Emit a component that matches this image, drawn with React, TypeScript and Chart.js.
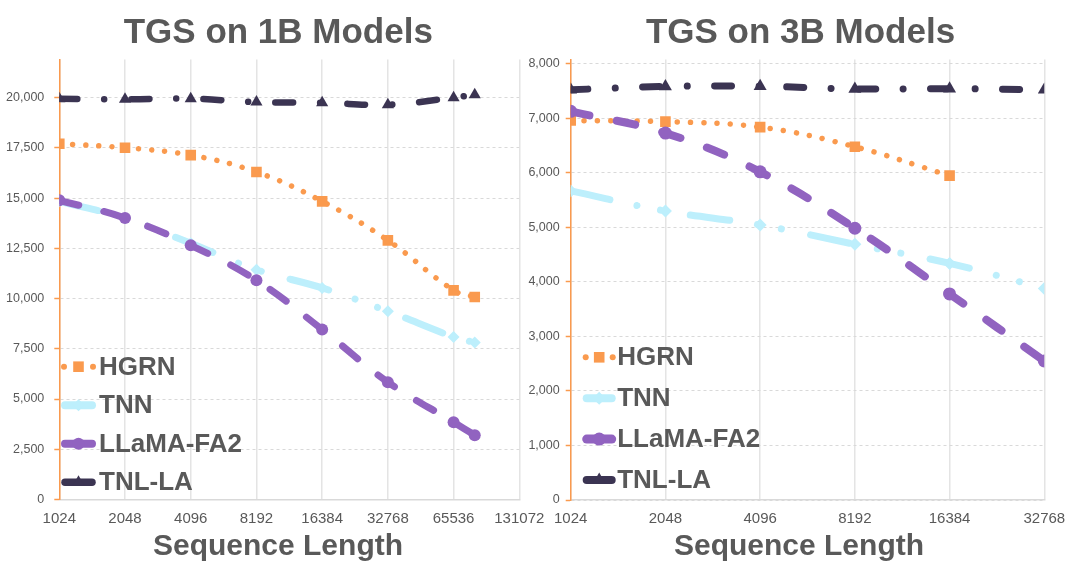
import React, { useEffect, useRef } from 'react';
import { Chart, registerables } from 'chart.js';

Chart.register(...registerables);

// ---------- data ----------
const seriesNames = ['HGRN', 'TNN', 'LLaMA-FA2', 'TNL-LA'];

const seqLen1B = [1024, 2048, 4096, 8192, 16384, 32768, 65536, 81920];
const hgrn1B = [17710, 17510, 17140, 16300, 14840, 12900, 10410, 10080];
const tnn1B = [14850, 14000, 12750, 11440, 10530, 9370, 8090, 7810];
const llama1B = [14890, 14010, 12650, 10910, 8460, 5840, 3850, 3200];
const tnl1B = [19950, 19920, 19950, 19780, 19750, 19650, 20000, 20150];
const xTicks1B = [1024, 2048, 4096, 8192, 16384, 32768, 65536, 131072];
const yTicks1B = [0, 2500, 5000, 7500, 10000, 12500, 15000, 17500, 20000];

const seqLen3B = [1024, 2048, 4096, 8192, 16384, 32768];
const hgrn3B = [6960, 6940, 6840, 6480, 5950];
const tnn3B = [5670, 5300, 5045, 4690, 4340, 3880];
const llama3B = [7130, 6730, 6020, 4985, 3780, 2550];
const tnl3B = [7525, 7585, 7590, 7540, 7545, 7525];
const xTicks3B = [1024, 2048, 4096, 8192, 16384, 32768];
const yTicks3B = [0, 1000, 2000, 3000, 4000, 5000, 6000, 7000, 8000];

const title1B = 'TGS on 1B Models';
const title3B = 'TGS on 3B Models';
const xAxisTitle = 'Sequence Length';

// ---------- styles ----------
const FONT = "'Liberation Sans', Arial, Helvetica, sans-serif";
const TEXT = '#595959';
const ORANGE = '#FA9A4E';
const LIGHTBLUE = '#BDEFFC';
const PURPLE = '#9163C0';
const NAVY = '#3B3452';

type Style = {
  color: string;
  width: number;
  dash: number[];
  point: string;
  radius: number;
  order: number;
  legend: 'dots' | 'solid';
};

const styles1B: Style[] = [
  { color: ORANGE, width: 5.5, dash: [0.01, 13.2], point: 'rect', radius: 7.5, order: 2, legend: 'dots' },
  { color: LIGHTBLUE, width: 7, dash: [40, 28, 0.01, 24, 0.01, 30], point: 'rectRot', radius: 6, order: 3, legend: 'solid' },
  { color: PURPLE, width: 7, dash: [20, 26], point: 'circle', radius: 6, order: 1, legend: 'solid' },
  { color: NAVY, width: 6.5, dash: [18, 27, 0.01, 27], point: 'triangle', radius: 7, order: 0, legend: 'solid' },
];
const styles3B: Style[] = [
  { color: ORANGE, width: 5.5, dash: [0.01, 13.3], point: 'rect', radius: 7.5, order: 2, legend: 'dots' },
  { color: LIGHTBLUE, width: 7, dash: [40, 28, 0.01, 24, 0.01, 30], point: 'rectRot', radius: 6.5, order: 3, legend: 'solid' },
  { color: PURPLE, width: 8, dash: [19, 28], point: 'circle', radius: 6.5, order: 1, legend: 'solid' },
  { color: NAVY, width: 7, dash: [17, 27.5, 0.01, 27.5], point: 'triangle', radius: 7.5, order: 0, legend: 'solid' },
];

function drawMarker(ctx: CanvasRenderingContext2D, style: string, x: number, y: number, r: number, color: string) {
  ctx.save();
  ctx.fillStyle = color;
  ctx.beginPath();
  if (style === 'rect') {
    const s = r * Math.SQRT1_2;
    ctx.rect(x - s, y - s, 2 * s, 2 * s);
  } else if (style === 'rectRot') {
    ctx.moveTo(x, y - r);
    ctx.lineTo(x + r, y);
    ctx.lineTo(x, y + r);
    ctx.lineTo(x - r, y);
    ctx.closePath();
  } else if (style === 'triangle') {
    ctx.moveTo(x, y - r);
    ctx.lineTo(x + r * Math.sin((2 * Math.PI) / 3), y - r * Math.cos((2 * Math.PI) / 3));
    ctx.lineTo(x + r * Math.sin((4 * Math.PI) / 3), y - r * Math.cos((4 * Math.PI) / 3));
    ctx.closePath();
  } else {
    ctx.arc(x, y, r, 0, Math.PI * 2);
  }
  ctx.fill();
  ctx.restore();
}

// chart title, in-plot legend and x-axis title placed where the reference has them
const annotations = {
  id: 'annotations',
  afterDraw(chart: any, _args: any, opts: any) {
    const { ctx, chartArea } = chart;
    const sx = chartArea.left + opts.offsetX;
    const w = opts.symbolWidth;
    chart.data.datasets.forEach((ds: any, i: number) => {
      const st: Style = opts.styles[i];
      const y = opts.top + i * opts.rowGap;
      ctx.save();
      if (st.legend === 'dots') {
        ctx.fillStyle = st.color;
        [sx + 3, sx + w - 3].forEach((cx) => {
          ctx.beginPath();
          ctx.arc(cx, y, 3, 0, Math.PI * 2);
          ctx.fill();
        });
      } else {
        ctx.strokeStyle = st.color;
        ctx.lineWidth = st.width + 1;
        ctx.lineCap = 'round';
        ctx.beginPath();
        ctx.moveTo(sx + 4, y);
        ctx.lineTo(sx + w - 4, y);
        ctx.stroke();
      }
      ctx.restore();
      drawMarker(ctx, st.point, sx + w / 2, y, st.radius, st.color);
      ctx.save();
      ctx.fillStyle = TEXT;
      ctx.font = `bold ${opts.fontSize}px ${FONT}`;
      ctx.textAlign = 'left';
      ctx.textBaseline = 'middle';
      ctx.fillText(ds.label, sx + w + opts.textGap, y + 1);
      ctx.restore();
    });
    ctx.save();
    ctx.fillStyle = TEXT;
    ctx.textAlign = 'center';
    ctx.textBaseline = 'alphabetic';
    // chart title
    ctx.font = `bold 35px ${FONT}`;
    ctx.fillText(opts.title, opts.titleX, opts.titleBaseline);
    // x-axis title
    ctx.font = `bold 30px ${FONT}`;
    ctx.fillText(opts.axisTitle, opts.axisTitleX, opts.axisTitleBaseline);
    ctx.restore();
  },
};

function buildDatasets(xs: number[], series: number[][], st: Style[]) {
  return series.map((vals, i) => ({
    label: seriesNames[i],
    data: vals.map((v, j) => ({ x: xs[j], y: v })),
    borderColor: st[i].color,
    backgroundColor: st[i].color,
    borderWidth: st[i].width,
    borderDash: st[i].dash,
    borderCapStyle: 'round',
    borderJoinStyle: 'round',
    pointStyle: st[i].point,
    pointRadius: st[i].radius,
    pointBorderWidth: 0,
    pointBackgroundColor: st[i].color,
    tension: 0.4,
    fill: false,
    order: st[i].order,
  }));
}

type Cfg = {
  title: string;
  xs: number[];
  series: number[][];
  st: Style[];
  xTicks: number[];
  yTicks: number[];
  yMax: number;
  yAxisWidth: number;
  xAxisHeight: number;
  padRight: number;
  yTickPad: number;
  legend: any;
};

function makeConfig(c: Cfg): any {
  return {
    type: 'line',
    data: { datasets: buildDatasets(c.xs, c.series, c.st) },
    plugins: [annotations],
    options: {
      animation: false,
      responsive: false,
      events: [],
      layout: { padding: { left: 0, right: c.padRight, top: 59.5, bottom: 0 } },
      plugins: {
        legend: { display: false },
        tooltip: { enabled: false },
        title: { display: false },
        annotations: { ...c.legend, styles: c.st, axisTitle: xAxisTitle, title: c.title },
      },
      scales: {
        x: {
          type: 'logarithmic',
          min: c.xTicks[0],
          max: c.xTicks[c.xTicks.length - 1],
          afterBuildTicks: (s: any) => {
            s.ticks = c.xTicks.map((v) => ({ value: v }));
          },
          afterFit: (s: any) => {
            s.height = c.xAxisHeight;
          },
          ticks: {
            autoSkip: false,
            maxRotation: 0,
            color: TEXT,
            padding: 10,
            font: { family: FONT, size: 15 },
            callback: (v: any) => String(v),
          },
          grid: { color: '#E4E4E4', lineWidth: 1.5, drawTicks: false },
          border: { display: true, color: '#D9D9D9', width: 1.5 },
        },
        y: {
          type: 'linear',
          min: 0,
          max: c.yMax,
          afterBuildTicks: (s: any) => {
            s.ticks = c.yTicks.map((v) => ({ value: v }));
          },
          afterFit: (s: any) => {
            s.width = c.yAxisWidth;
          },
          ticks: {
            color: TEXT,
            padding: c.yTickPad,
            font: { family: FONT, size: 12.5 },
            callback: (v: any) => Number(v).toLocaleString('en-US'),
          },
          grid: {
            color: '#D9D9D9',
            lineWidth: 1,
            drawTicks: true,
            tickLength: 5,
            tickColor: ORANGE,
            tickWidth: 1.5,
          },
          border: { display: true, color: ORANGE, width: 1.5, dash: [3, 3] },
        },
      },
    },
  };
}

function ChartCanvas({ cfg, width, height }: { cfg: Cfg; width: number; height: number }) {
  const ref = useRef<HTMLCanvasElement | null>(null);
  useEffect(() => {
    if (!ref.current) return;
    const chart = new Chart(ref.current, makeConfig(cfg));
    return () => chart.destroy();
  }, [cfg]);
  return <canvas ref={ref} width={width} height={height} style={{ display: 'block', width, height }} />;
}

const cfg1B: Cfg = {
  title: title1B,
  xs: seqLen1B,
  series: [hgrn1B, tnn1B, llama1B, tnl1B],
  st: styles1B,
  xTicks: xTicks1B,
  yTicks: yTicks1B,
  yMax: 21900,
  yAxisWidth: 59.3,
  xAxisHeight: 67.5,
  padRight: 37.7,
  yTickPad: 10,
  legend: {
    offsetX: 1.7, symbolWidth: 35, textGap: 3, top: 366.7, rowGap: 38.5, fontSize: 26,
    titleX: 278.3, titleBaseline: 43,
    axisTitleX: 278, axisTitleBaseline: 555,
  },
};

const cfg3B: Cfg = {
  title: title3B,
  xs: seqLen3B,
  series: [hgrn3B, tnn3B, llama3B, tnl3B],
  st: styles3B,
  xTicks: xTicks3B,
  yTicks: yTicks3B,
  yMax: 8080,
  yAxisWidth: 45.7,
  xAxisHeight: 67,
  padRight: 31.7,
  yTickPad: 6,
  legend: {
    offsetX: 12, symbolWidth: 33, textGap: 1.5, top: 357.3, rowGap: 40.9, fontSize: 26,
    titleX: 275.5, titleBaseline: 43,
    axisTitleX: 274, axisTitleBaseline: 555,
  },
};

export default function App() {
  return (
    <div style={{ position: 'fixed', left: 0, top: 0, width: 1080, height: 567, background: '#fff', overflow: 'hidden' }}>
      <div style={{ position: 'absolute', left: 0, top: 0 }}>
        <ChartCanvas cfg={cfg1B} width={557} height={567} />
      </div>
      <div style={{ position: 'absolute', left: 525, top: 0 }}>
        <ChartCanvas cfg={cfg3B} width={551} height={567} />
      </div>
    </div>
  );
}
